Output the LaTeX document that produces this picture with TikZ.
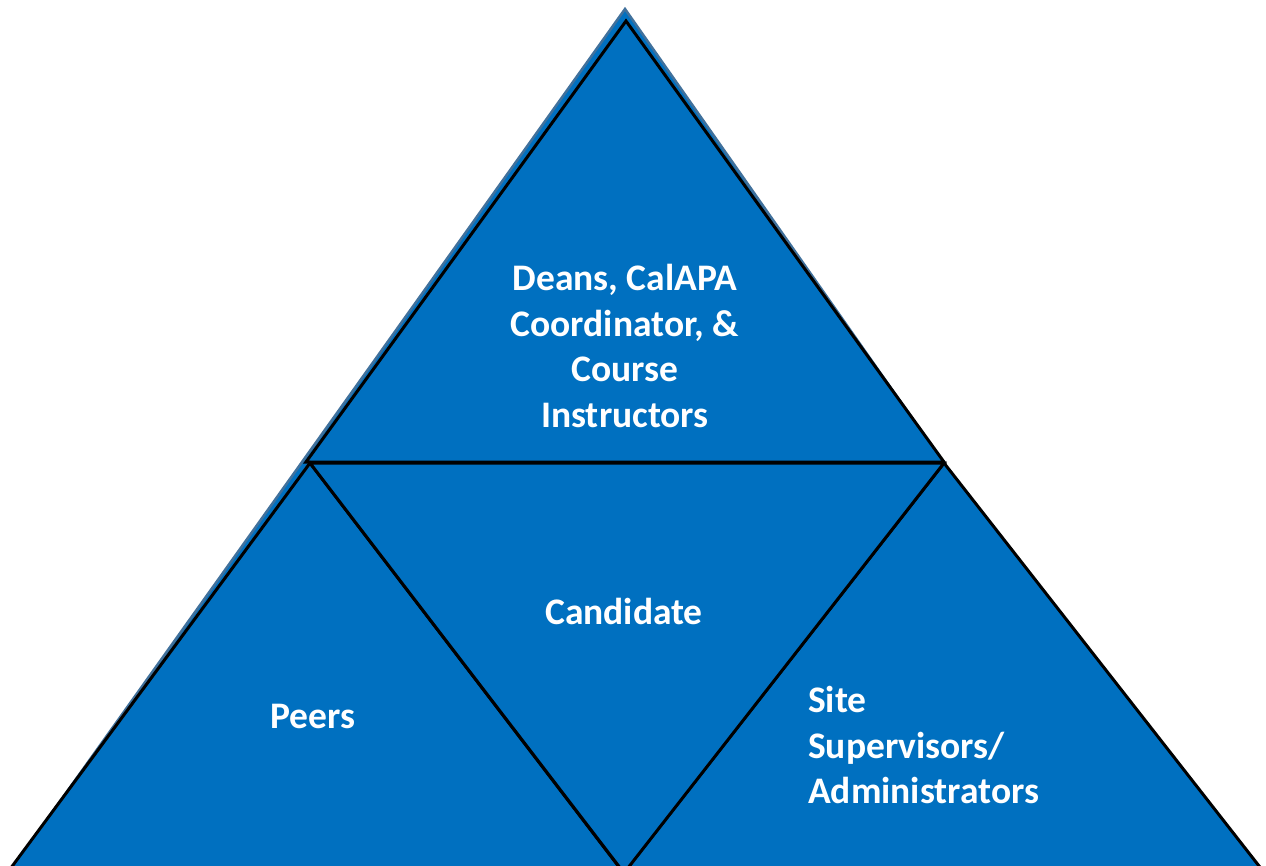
\documentclass[tikz,border=0pt]{standalone}
\usepackage{fontspec}
\setmainfont{Carlito}
\definecolor{fillblue}{HTML}{0070C0}
\definecolor{edgeblue}{HTML}{41719C}
\tikzset{
  tri/.style={fill=fillblue, draw=black, line width=3pt, line join=miter},
  bigtri/.style={fill=fillblue, draw=edgeblue, line width=2.5pt},
  lbl/.style={text=white, font=\fontsize{37.5}{45.5}\selectfont\bfseries, inner sep=0pt}
}
\begin{document}
\begin{tikzpicture}[x=1pt,y=-1pt]
\useasboundingbox (0,0) rectangle (1266,865);
\clip (0,0) rectangle (1266,865);
\draw[bigtri] (625,9) -- (4,880) -- (1236,880) -- cycle;
\draw[tri] (626,21) -- (306,462) -- (944,462) -- cycle;
\draw[tri] (310,463) -- (2,880) -- (629,880) -- cycle;
\draw[tri] (944,463) -- (618,880) -- (1270,880) -- cycle;
\draw[tri] (310,463) -- (944,463) -- (624,873) -- cycle;
\node[lbl, align=center] (top) at (625,346) {Deans, CalAPA\\Coordinator, \&\\Course\\Instructors};
\node[lbl] (cand) at (624,611) {Candidate};
\node[lbl] (peers) at (313,716) {Peers};
\node[lbl, align=left, anchor=west] (site) at (808,745) {Site\\Supervisors/\\Administrators};
\end{tikzpicture}
\end{document}
